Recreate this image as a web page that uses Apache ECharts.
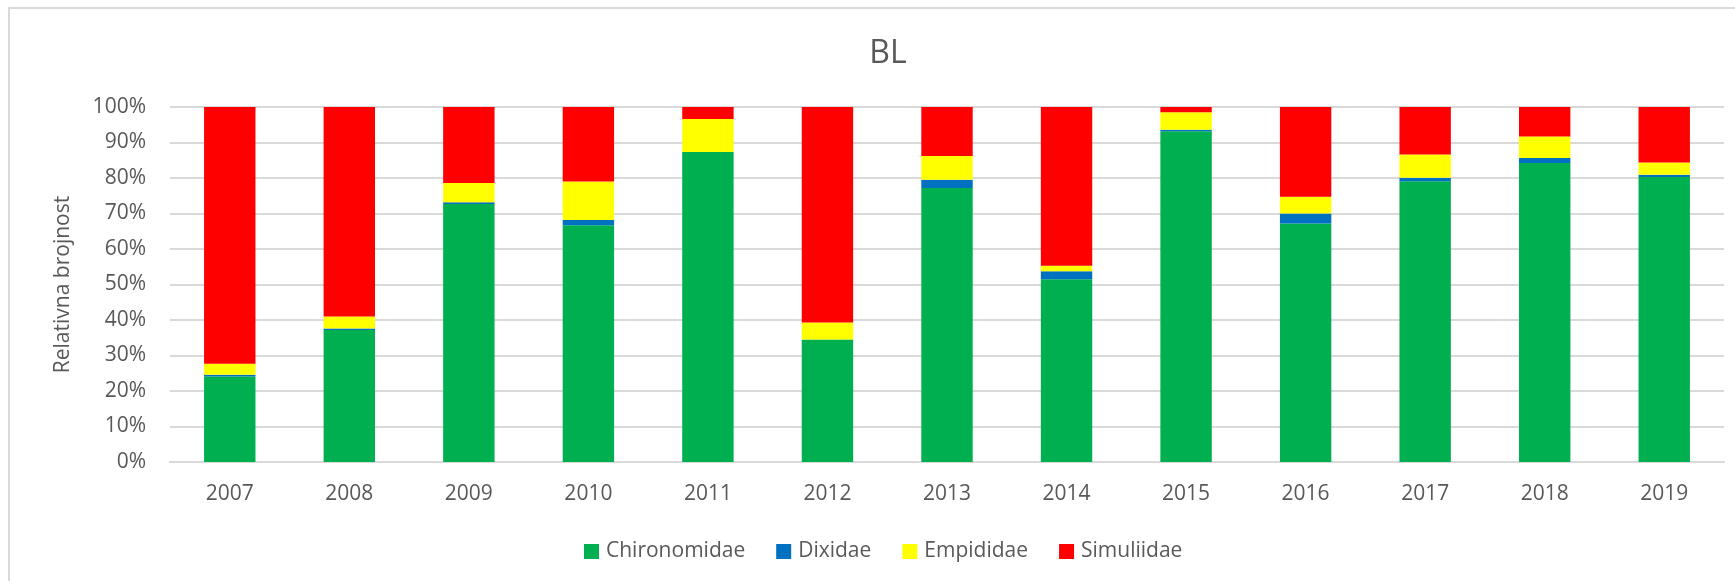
<!DOCTYPE html>
<html>
<head>
<meta charset="utf-8">
<script src="https://cdn.jsdelivr.net/npm/echarts@6/dist/echarts.min.js"></script>
<style>
  html, body { margin: 0; padding: 0; background: #fff; }
  #chart { width: 1735px; height: 581px; }
</style>
</head>
<body>
<div id="chart"></div>
<script>
var years = ['2007', '2008', '2009', '2010', '2011', '2012', '2013', '2014', '2015', '2016', '2017', '2018', '2019'];

// relative share per family, in %
var chironomidae = [24.1, 37.2, 72.7, 66.7, 87.3, 34.5, 77.2, 51.5, 93.2, 67.2, 79.1, 84.2, 80.3];
var dixidae = [0.5, 0.4, 0.5, 1.5, 0, 0, 2.3, 2.2, 0.4, 2.8, 1.0, 1.4, 0.6];
var empididae = [3.1, 3.4, 5.4, 10.8, 9.3, 4.8, 6.7, 1.6, 4.9, 4.7, 6.5, 6.1, 3.5];
var simuliidae = [72.3, 59.0, 21.4, 21.0, 3.4, 60.7, 13.8, 44.7, 1.5, 25.3, 13.4, 8.3, 15.6];

var textColor = '#595959';
var font = 'Open Sans';

function barSeries(name, data, color) {
  return {
    name: name,
    type: 'bar',
    stack: 'total',
    barWidth: '43%',
    data: data,
    itemStyle: { color: color },
    emphasis: { disabled: true }
  };
}

var chart = echarts.init(document.getElementById('chart'));

chart.setOption({
  animation: false,
  textStyle: { fontFamily: font },
  graphic: [{
    type: 'rect',
    shape: { x: 9, y: 8, width: 1800, height: 700 },
    style: { fill: 'none', stroke: '#d9d9d9', lineWidth: 2 }
  }],
  title: {
    text: 'BL',
    left: 883,
    top: 33,
    textAlign: 'center',
    textStyle: { color: textColor, fontSize: 32, fontWeight: 'normal', fontFamily: font }
  },
  legend: {
    left: 579,
    top: 536,
    itemWidth: 15,
    itemHeight: 15,
    itemGap: 31,
    icon: 'rect',
    textStyle: { color: textColor, fontSize: 21, fontFamily: font, padding: [0, 0, 0, 2] },
    data: ['Chironomidae', 'Dixidae', 'Empididae', 'Simuliidae']
  },
  grid: {
    left: 170,
    right: 11,
    top: 107,
    bottom: 119
  },
  xAxis: {
    type: 'category',
    data: years,
    axisLine: { lineStyle: { color: '#d9d9d9', width: 2 } },
    axisTick: { show: false },
    axisLabel: { color: textColor, fontSize: 21, margin: 22, fontFamily: font }
  },
  yAxis: {
    type: 'value',
    min: 0,
    max: 100,
    interval: 10,
    name: 'Relativna brojnost',
    nameLocation: 'middle',
    nameGap: 96,
    nameTextStyle: { color: textColor, fontSize: 21, fontFamily: font },
    axisLine: { show: false },
    axisTick: { show: false },
    axisLabel: { color: textColor, fontSize: 21, margin: 24, formatter: '{value}%', fontFamily: font },
    splitLine: { lineStyle: { color: '#d9d9d9', width: 2 } }
  },
  series: [
    barSeries('Chironomidae', chironomidae, '#00b050'),
    barSeries('Dixidae', dixidae, '#0070c0'),
    barSeries('Empididae', empididae, '#ffff00'),
    barSeries('Simuliidae', simuliidae, '#ff0000')
  ]
});
</script>
</body>
</html>
